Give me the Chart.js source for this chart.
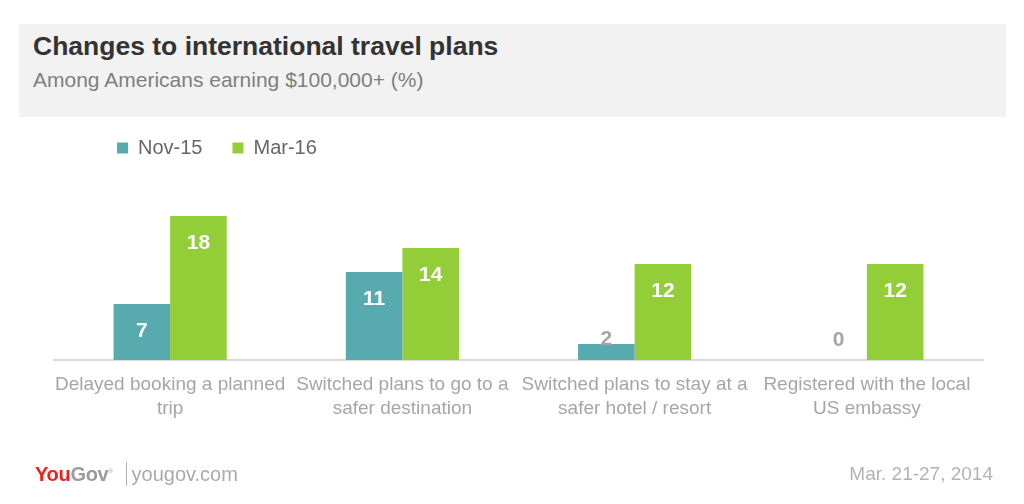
<!DOCTYPE html>
<html>
<head>
<meta charset="utf-8">
<script src="https://cdn.jsdelivr.net/npm/chart.js@4.4.1/dist/chart.umd.min.js"></script>
<style>
  html, body { margin: 0; padding: 0; background: #fff; }
  body { width: 1024px; height: 504px; position: relative; overflow: hidden; font-family: "Liberation Sans", Arial, sans-serif; }
  #header { position: absolute; left: 19px; top: 24px; width: 987px; height: 93px; background: #f2f2f2; }
  #title { position: absolute; left: 14px; top: 7px; font-size: 26.5px; font-weight: bold; color: #333; }
  #subtitle { position: absolute; left: 14px; top: 44px; font-size: 21px; color: #7f7f7f; }
  #wrap { position: absolute; left: 0; top: 0; width: 1024px; height: 504px; }
  #footer-left { position: absolute; left: 35px; top: 462px; color: #aaa; display: flex; align-items: center; }
  #logo { font-weight: bold; font-size: 20px; letter-spacing: -0.3px; }
  #logo .you { color: #e8231f; }
  #logo .gov { color: #9b9b9b; }
  #logo sup { font-size: 6px; color: #9b9b9b; font-weight: normal; }
  #sep { display: inline-block; width: 1px; height: 24px; background: #b0b0b0; margin: 0 5px 0 13px; }
  #site { font-size: 20px; color: #aaa; }
  #date { position: absolute; right: 31px; top: 463px; font-size: 19px; color: #b3b3b3; }
</style>
</head>
<body>
<div id="header">
  <div id="title">Changes to international travel plans</div>
  <div id="subtitle">Among Americans earning $100,000+ (%)</div>
</div>
<div id="wrap"><canvas id="chart"></canvas></div>
<div id="footer-left"><span id="logo"><span class="you">You</span><span class="gov">Gov</span><sup>®</sup></span><span id="sep"></span><span id="site">yougov.com</span></div>
<div id="date">Mar. 21-27, 2014</div>
<script>
const categories = [
  ['Delayed booking a planned', 'trip'],
  ['Switched plans to go to a', 'safer destination'],
  ['Switched plans to stay at a', 'safer hotel / resort'],
  ['Registered with the local', 'US embassy']
];
const nov15 = [7, 11, 2, 0];
const mar16 = [18, 14, 12, 12];
const seriesNames = ['Nov-15', 'Mar-16'];

// value labels: white inside the bar top, grey above short bars
const valueLabels = {
  id: 'valueLabels',
  afterDatasetsDraw(chart) {
    const ctx = chart.ctx;
    const base = chart.scales.y.getPixelForValue(0);
    ctx.save();
    ctx.font = 'bold 21px "Liberation Sans", Arial, sans-serif';
    ctx.textAlign = 'center';
    chart.data.datasets.forEach((ds, i) => {
      chart.getDatasetMeta(i).data.forEach((bar, j) => {
        const v = ds.data[j];
        if (v >= 5) {
          ctx.fillStyle = '#ffffff';
          ctx.textBaseline = 'middle';
          ctx.fillText(v, bar.x, bar.y + 27);
        } else {
          ctx.fillStyle = '#a6a6a6';
          ctx.textBaseline = 'alphabetic';
          ctx.fillText(v, bar.x, Math.min(bar.y + 1, base - 14));
        }
      });
    });
    ctx.restore();
  }
};

// move the legend right and up, like the original
const legendShift = {
  id: 'legendShift',
  afterLayout(chart) {
    const lg = chart.legend;
    lg.left += 33;
    lg.right += 33;
    lg.top -= 32;
    lg.bottom -= 32;
  }
};

const ctx = document.getElementById('chart').getContext('2d');
new Chart(ctx, {
  type: 'bar',
  data: {
    labels: categories,
    datasets: [
      { label: seriesNames[0], data: nov15, backgroundColor: '#57abaf' },
      { label: seriesNames[1], data: mar16, backgroundColor: '#93cd38' }
    ]
  },
  options: {
    responsive: true,
    maintainAspectRatio: false,
    animation: false,
    categoryPercentage: 0.487,
    barPercentage: 1,
    layout: { padding: { left: 54, right: 41, top: 140, bottom: 78 } },
    plugins: {
      legend: {
        position: 'top',
        align: 'start',
        labels: {
          boxWidth: 11,
          boxHeight: 11,
          padding: 30,
          color: '#666',
          font: { size: 20, family: '"Liberation Sans", Arial, sans-serif' }
        }
      },
      tooltip: { enabled: false }
    },
    scales: {
      x: {
        grid: { display: false },
        border: { display: true, color: '#d9d9d9', width: 2 },
        ticks: {
          color: '#a6a6a6',
          padding: 5,
          maxRotation: 0,
          autoSkip: false,
          font: { size: 19, family: '"Liberation Sans", Arial, sans-serif', lineHeight: 1.26 }
        }
      },
      y: {
        display: false,
        min: 0,
        max: 20
      }
    }
  },
  plugins: [valueLabels, legendShift]
});
</script>
</body>
</html>
